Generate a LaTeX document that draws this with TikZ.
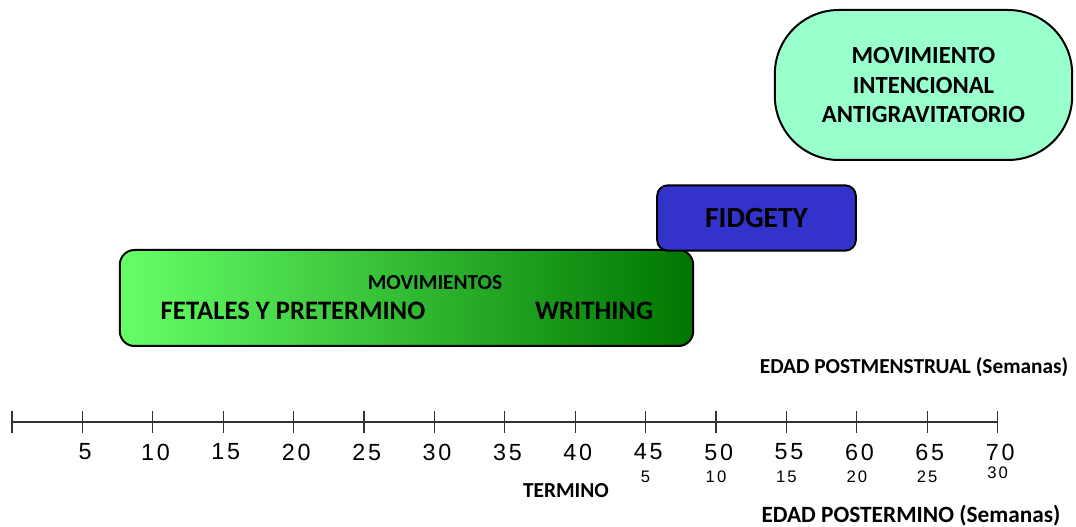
\documentclass[tikz,border=0pt]{standalone}
\usepackage{fontspec}
\setmainfont{Carlito}
\newfontfamily\numfont[LetterSpace=12]{Liberation Sans}

\definecolor{fetalgreen}{RGB}{102,255,102}
\definecolor{writhinggreen}{RGB}{0,118,0}
\definecolor{fidgetyblue}{RGB}{51,51,204}
\definecolor{antigravmint}{RGB}{153,255,204}
\definecolor{axisgray}{RGB}{50,50,50}

\begin{document}
\begin{tikzpicture}[x=0.75pt,y=-0.75pt,
  phase/.style={draw=black, line width=1.5pt, inner sep=0pt},
  bigweek/.style={font=\numfont\fontsize{17.5}{17.5}\selectfont},
  smallweek/.style={font=\numfont\fontsize{12.5}{12.5}\selectfont},
  caption/.style={font=\bfseries\fontsize{16}{16}\selectfont}]
  \useasboundingbox (0,0) rectangle (1076,527);
  % Phases
  \node[phase, rounded corners=11pt, left color=fetalgreen, right color=writhinggreen,
        minimum width=430pt, minimum height=72pt] (fetal) at (406.5,298) {};
  \node[font=\bfseries\fontsize{16}{16}\selectfont] (movs) at (435,283) {MOVIMIENTOS};
  \node[font=\bfseries\fontsize{20}{20}\selectfont] (pret) at (293,311) {FETALES Y PRETERMINO};
  \node[font=\bfseries\fontsize{20}{20}\selectfont] (writh) at (594,311) {WRITHING};
  \node[phase, rounded corners=8pt, fill=fidgetyblue, minimum width=149pt, minimum height=49pt,
        font=\bfseries\fontsize{22}{22}\selectfont] (fidg) at (756.5,218) {FIDGETY};
  \node[phase, rounded corners=48pt, fill=antigravmint, minimum width=223pt, minimum height=112.5pt,
        align=center, font=\bfseries\fontsize{18.5}{22}\selectfont] (anti) at (923.5,85)
        {MOVIMIENTO\\INTENCIONAL\\ANTIGRAVITATORIO};
  % Axis
  \foreach \i in {0,...,14} {
    \coordinate (t\i) at (12+70.4*\i,422);
    \draw[axisgray, line width=1pt] ([yshift=8pt]t\i) -- ([yshift=-8pt]t\i);
  }
  \draw[axisgray, line width=1pt] (t0) -- (t14);
  \foreach \i [evaluate=\i as \w using int(5*\i)] in {1,...,14}
    \node[bigweek] (pm\i) at ([xshift=2pt,yshift=-22.5pt]t\i) {\w};
  \foreach \i [evaluate=\i as \w using int(5*\i-40)] in {9,...,13}
    \node[smallweek] (pt\i) at ([yshift=-41pt]t\i) {\w};
  \node[smallweek] (pt14) at ([yshift=-38pt]t14) {30};
  % Axis titles
  \node[caption, anchor=east] (pmtitle) at (1073,367) {EDAD POSTMENSTRUAL (Semanas)};
  \node[caption] (term) at (566,491) {TERMINO};
  \node[caption, font=\bfseries\fontsize{17.5}{17.5}\selectfont] (pttitle) at (911,516) {EDAD POSTERMINO (Semanas)};
\end{tikzpicture}
\end{document}
